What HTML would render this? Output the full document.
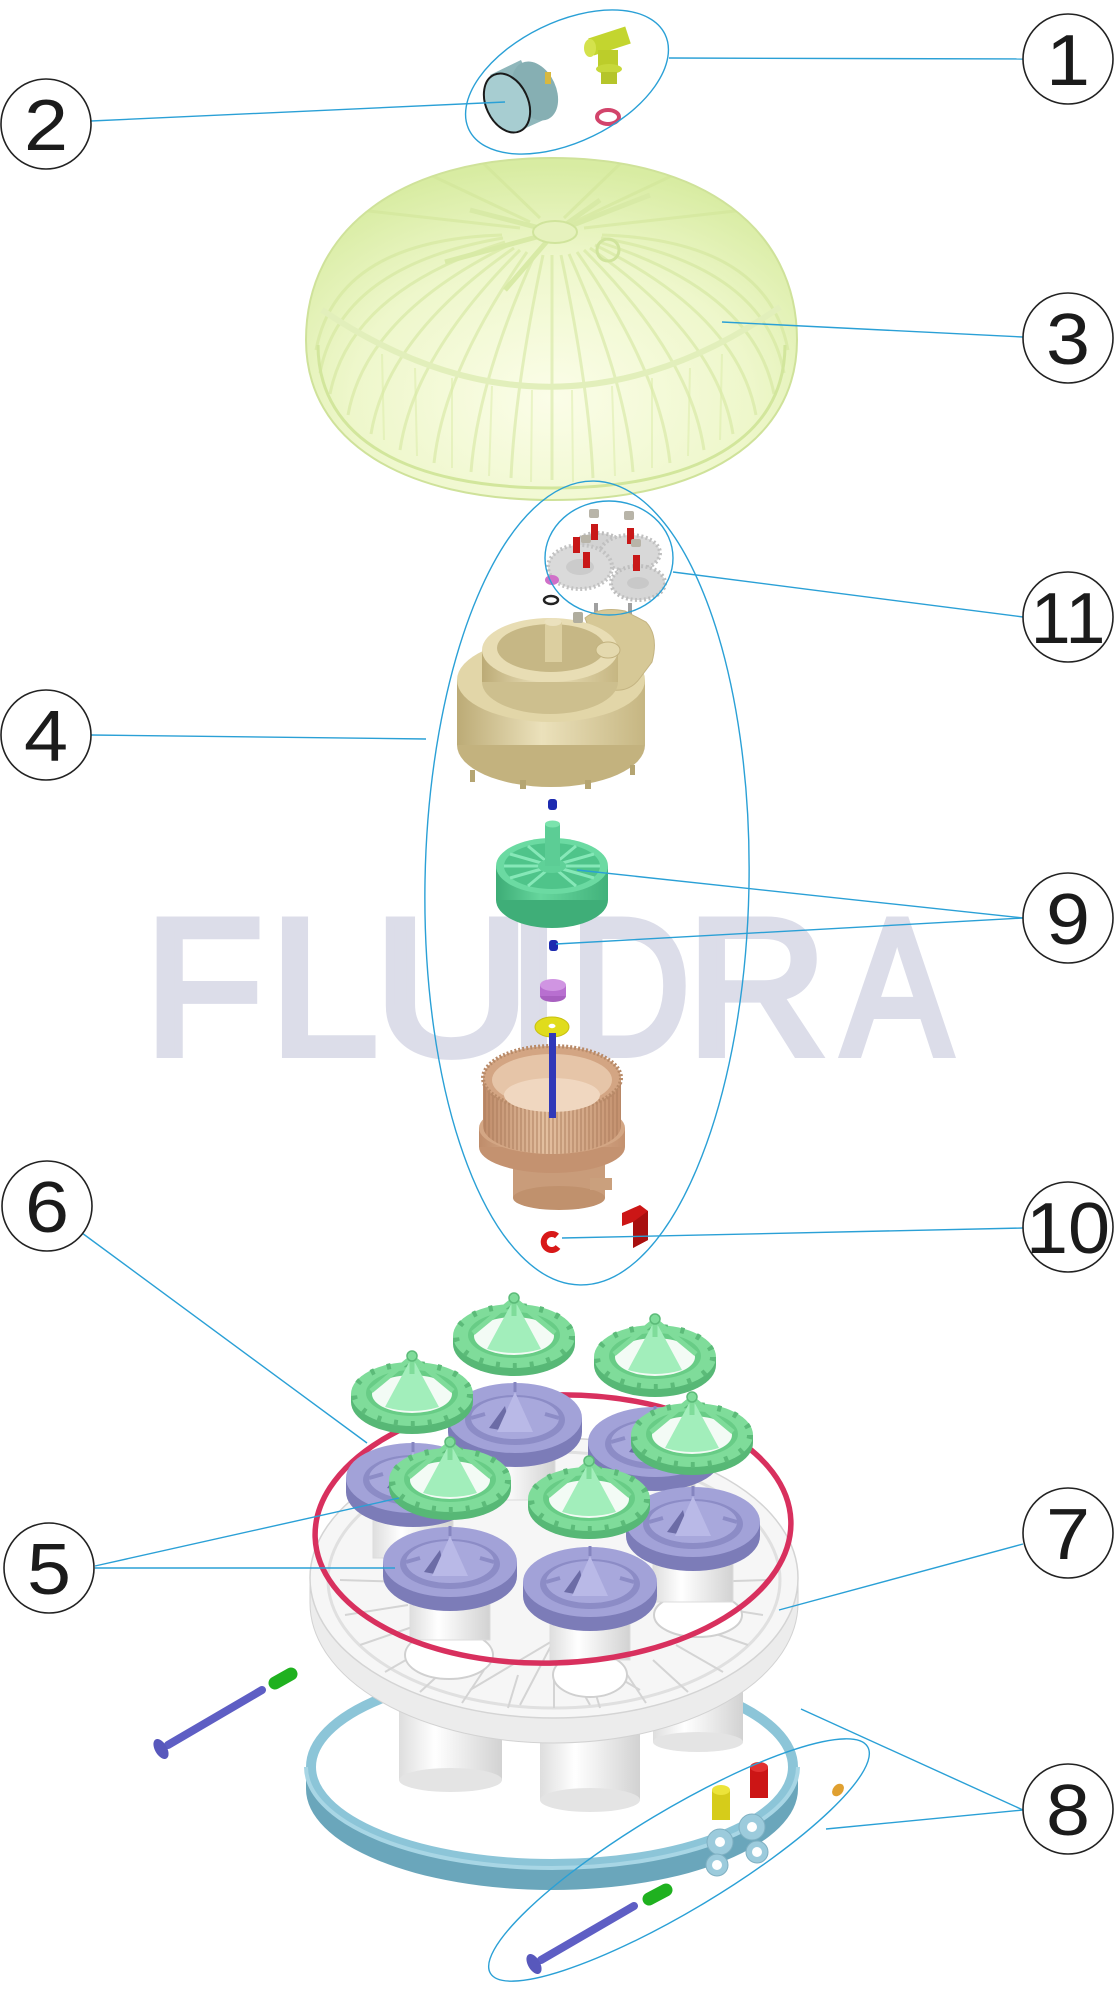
<!DOCTYPE html>
<html><head><meta charset="utf-8">
<style>
html,body{margin:0;padding:0;background:#fff;}
svg{display:block;}
.n{font-family:"Liberation Sans",Arial,sans-serif;font-size:72px;fill:#1b1b1b;}
.wm{font-family:"Liberation Sans",Arial,sans-serif;font-size:194px;font-weight:normal;fill:#dcdde9;stroke:#dcdde9;stroke-width:8;stroke-linejoin:miter;}
.ld{stroke:#2aa0d6;stroke-width:1.4;fill:none;}
</style></head><body>
<svg width="1115" height="2000" viewBox="0 0 1115 2000" xmlns="http://www.w3.org/2000/svg">
<defs>
 <radialGradient id="dg" cx="0.5" cy="0.7" r="0.68">
  <stop offset="0" stop-color="#fbfde8"/>
  <stop offset="0.6" stop-color="#eef7cb"/>
  <stop offset="1" stop-color="#d8ec a2"/>
 </radialGradient>
 <radialGradient id="dg2" cx="0.5" cy="0.7" r="0.68">
  <stop offset="0" stop-color="#fbfde8"/>
  <stop offset="0.6" stop-color="#eef7cb"/>
  <stop offset="1" stop-color="#d8eca2"/>
 </radialGradient>
 <clipPath id="dc"><path d="M306,340 C306,228 402,158 552,158 C702,158 797,228 797,340 C797,442 700,500 552,500 C404,500 306,442 306,340Z"/></clipPath>
 <linearGradient id="wcyl" x1="0" x2="1"><stop offset="0" stop-color="#dedede"/><stop offset="0.35" stop-color="#ffffff"/><stop offset="1" stop-color="#d2d2d2"/></linearGradient>
 <linearGradient id="fanG" x1="0" x2="1"><stop offset="0" stop-color="#3dac76"/><stop offset="0.4" stop-color="#66d69d"/><stop offset="1" stop-color="#42b27b"/></linearGradient>
 <linearGradient id="brG" x1="0" x2="1"><stop offset="0" stop-color="#bf8c6a"/><stop offset="0.45" stop-color="#e4c0a0"/><stop offset="1" stop-color="#c4916f"/></linearGradient>
 <linearGradient id="bgG" x1="0" x2="1"><stop offset="0" stop-color="#bcab76"/><stop offset="0.45" stop-color="#ebe1bb"/><stop offset="1" stop-color="#c6b682"/></linearGradient>
 <pattern id="teeth" width="4" height="10" patternUnits="userSpaceOnUse"><rect width="2" height="10" fill="#a97a5a"/></pattern>
 <g id="cap">
  <ellipse cx="0" cy="8" rx="61" ry="32" fill="#57b876"/>
  <rect x="-61" y="0" width="122" height="8" fill="#57b876"/>
  <ellipse cx="0" cy="0" rx="61" ry="32" fill="#7fdc9a"/>
  <ellipse cx="0" cy="0" rx="58" ry="30" fill="none" stroke="#5cbb79" stroke-width="6" stroke-dasharray="4 13"/>
  <ellipse cx="0" cy="-1" rx="46" ry="23" fill="#68cc86"/>
  <ellipse cx="0" cy="0" rx="40" ry="19" fill="#f3fbf5"/>
  <path d="M0,-37 L-27,13 Q0,21 27,13 Z" fill="#a2eebb"/>
  <path d="M0,-37 L-41,-3 M0,-37 L41,-3 M0,-37 L0,-20" stroke="#7fdc9a" stroke-width="5"/>
  <circle cx="0" cy="-38" r="5" fill="#7fdc9a" stroke="#5cbb79" stroke-width="1.5"/>
 </g>
 <g id="puck">
  <ellipse cx="0" cy="14" rx="67" ry="35" fill="#7c7cb8"/>
  <rect x="-67" y="0" width="134" height="14" fill="#7c7cb8"/>
  <ellipse cx="0" cy="0" rx="67" ry="35" fill="#a2a2d8"/>
  <ellipse cx="0" cy="2" rx="50" ry="25" fill="#8c8cc6"/>
  <ellipse cx="0" cy="0" rx="44" ry="21" fill="#a8a8dc"/>
  <path d="M-26,10 L-10,-12 L-4,14 Z" fill="#6c6ca6"/>
  <path d="M0,-26 L-18,14 L18,14 Z" fill="#b9b9e7"/>
  <path d="M0,-26 L0,-36" stroke="#8585c0" stroke-width="3"/>
  <path d="M-44,0 L-30,-4 M44,0 L30,-4" stroke="#8c8cc6" stroke-width="4"/>
 </g>
 <g id="tube">
  <rect x="-40" y="0" width="80" height="70" fill="url(#wcyl)" stroke="#dcdcdc"/>
 </g>
</defs>

<rect width="1115" height="2000" fill="#fff"/>

<!-- watermark -->
<text class="wm" x="204" y="1054" text-anchor="middle">F</text>
<text class="wm" x="324" y="1054" text-anchor="middle">L</text>
<text class="wm" x="452" y="1054" text-anchor="middle" transform="translate(452,0) scale(1.12,1) translate(-452,0)">U</text>
<text class="wm" x="534" y="1054" text-anchor="middle">I</text>
<text class="wm" x="630" y="1054" text-anchor="middle" transform="translate(630,0) scale(0.86,1) translate(-630,0)">D</text>
<text class="wm" x="757" y="1054" text-anchor="middle">R</text>
<text class="wm" x="897" y="1054" text-anchor="middle" transform="translate(897,0) scale(0.84,1) translate(-897,0)">A</text>

<!-- DOME (3) -->
<path d="M306,340 C306,228 402,158 552,158 C702,158 797,228 797,340 C797,442 700,500 552,500 C404,500 306,442 306,340Z" fill="url(#dg2)" stroke="#cfe29a" stroke-width="2"/>
<g clip-path="url(#dc)" stroke="#cfe496" stroke-width="3" opacity="0.5" fill="none">
 <path d="M602,235 Q767,240 788,350"/>
 <path d="M601,238 Q764,266 784,373"/>
 <path d="M599,242 Q754,291 774,394"/>
 <path d="M595,245 Q738,315 756,415"/>
 <path d="M590,248 Q717,336 733,434"/>
 <path d="M584,250 Q690,355 704,450"/>
 <path d="M577,252 Q660,370 670,463"/>
 <path d="M569,254 Q626,381 633,472"/>
 <path d="M561,255 Q589,388 593,478"/>
 <path d="M552,255 L552,480"/>
 <path d="M543,255 Q515,388 511,478"/>
 <path d="M535,254 Q478,381 471,472"/>
 <path d="M527,252 Q444,370 434,463"/>
 <path d="M520,250 Q414,355 400,450"/>
 <path d="M514,248 Q387,336 371,434"/>
 <path d="M509,245 Q366,315 348,415"/>
 <path d="M505,242 Q350,291 330,394"/>
 <path d="M503,238 Q340,266 320,373"/>
 <path d="M502,235 Q337,240 316,350"/>
 <path d="M530,222 L420,170 M574,222 L684,170 M540,218 L480,160 M564,218 L624,160 M520,228 L360,210 M584,228 L744,210"/>
</g>
<g clip-path="url(#dc)" stroke="#d9eba6" stroke-width="2" opacity="0.5" fill="none">
 <path d="M532,390 L531,482 M572,390 L573,482 M492,386 L489,476 M612,386 L615,476 M452,378 L452,468 M652,378 L652,468 M415,368 L417,456 M690,368 L688,456 M382,354 L384,440 M722,354 L720,440"/>
</g>
<path d="M318,345 C318,440 410,488 552,488 C694,488 785,440 785,345" fill="none" stroke="#d2e69c" stroke-width="3"/>
<path d="M322,310 Q552,465 780,307" fill="none" stroke="#e2efbb" stroke-width="6"/>
<g stroke="#d8eaa6" stroke-width="5" fill="none">
 <path d="M555,232 L445,262 M555,232 L650,195 M555,232 L505,290 M555,232 L600,200 M555,232 L470,210"/>
</g>
<ellipse cx="555" cy="232" rx="22" ry="11" fill="#e6f2bd" stroke="#d0e49c" stroke-width="2"/>
<circle cx="608" cy="250" r="11" fill="none" stroke="#d0e49c" stroke-width="3"/>

<!-- TOP PARTS (1,2) -->
<polygon points="490,75 521,60 548,118 517,132" fill="#8fb7bb"/>
<ellipse cx="535" cy="91" rx="21" ry="31" transform="rotate(-25 535 91)" fill="#86afb3"/>
<rect x="545" y="72" width="6" height="12" fill="#d8b840"/>
<ellipse cx="507" cy="103" rx="21" ry="31" transform="rotate(-25 507 103)" fill="#a7cdd1" stroke="#1a1a1a" stroke-width="2"/>
<line x1="591" y1="47" x2="628" y2="35" stroke="#c3d52f" stroke-width="18"/>
<ellipse cx="590" cy="48" rx="6" ry="9" fill="#d4e24c"/>
<rect x="598" y="50" width="20" height="20" fill="#bccd2a"/>
<ellipse cx="609" cy="69" rx="13" ry="5" fill="#c7d83a"/>
<rect x="601" y="72" width="16" height="12" fill="#b5c52a"/>
<ellipse cx="608" cy="117" rx="11" ry="7" fill="none" stroke="#d2446b" stroke-width="4"/>

<!-- GEARS (11) -->
<ellipse cx="598" cy="545" rx="22" ry="12" fill="#d2d2d2" stroke="#bdbdbd" stroke-width="4" stroke-dasharray="2 2.5"/>
<ellipse cx="630" cy="553" rx="30" ry="18" fill="#d8d8d8" stroke="#c0c0c0" stroke-width="4" stroke-dasharray="2 2.5"/>
<ellipse cx="580" cy="567" rx="32" ry="22" fill="#dadada" stroke="#c2c2c2" stroke-width="4" stroke-dasharray="2 2.5"/>
<ellipse cx="580" cy="567" rx="14" ry="8" fill="#cbcbcb"/>
<ellipse cx="638" cy="583" rx="27" ry="17" fill="#d6d6d6" stroke="#bebebe" stroke-width="4" stroke-dasharray="2 2.5"/>
<ellipse cx="638" cy="583" rx="11" ry="6" fill="#c8c8c8"/>
<g fill="#c81818">
 <rect x="591" y="524" width="7" height="16"/><rect x="573" y="537" width="7" height="16"/>
 <rect x="583" y="552" width="7" height="16"/><rect x="627" y="528" width="7" height="16"/>
 <rect x="633" y="555" width="7" height="16"/>
</g>
<g fill="#b8b4a8">
 <rect x="589" y="509" width="10" height="9" rx="2"/><rect x="624" y="511" width="10" height="9" rx="2"/>
 <rect x="581" y="535" width="10" height="8" rx="2"/><rect x="631" y="539" width="10" height="8" rx="2"/>
</g>
<ellipse cx="552" cy="580" rx="7" ry="5" fill="#d070c8"/>
<ellipse cx="551" cy="600" rx="7" ry="4" fill="none" stroke="#222" stroke-width="2.5"/>
<g stroke="#a0a0a0" stroke-width="4"><line x1="596" y1="603" x2="596" y2="632"/><line x1="630" y1="603" x2="630" y2="633"/><line x1="636" y1="637" x2="636" y2="658"/></g>

<!-- HOUSING (4) -->
<ellipse cx="551" cy="745" rx="94" ry="42" fill="#c3b27e"/>
<rect x="457" y="680" width="188" height="65" fill="url(#bgG)"/>
<g fill="#b5a572"><rect x="470" y="770" width="5" height="12"/><rect x="520" y="780" width="6" height="9"/><rect x="585" y="780" width="6" height="9"/><rect x="630" y="765" width="5" height="10"/></g>
<ellipse cx="551" cy="680" rx="94" ry="42" fill="#e2d6a8"/>
<path d="M585,618 Q600,606 625,611 L646,622 Q659,636 652,662 L640,678 Q630,692 612,690 Z" fill="#d6c896" stroke="#c4b482"/>
<ellipse cx="550" cy="682" rx="68" ry="32" fill="#cdbf8e"/>
<rect x="482" y="650" width="136" height="32" fill="url(#bgG)"/>
<ellipse cx="550" cy="650" rx="68" ry="32" fill="#e8ddb4"/>
<ellipse cx="551" cy="648" rx="54" ry="24" fill="#c6b785"/>
<rect x="545" y="622" width="17" height="40" fill="#dccfa0"/>
<ellipse cx="553" cy="622" rx="8.5" ry="4" fill="#ebe1bd"/>
<ellipse cx="608" cy="650" rx="12" ry="8" fill="#e4d9ae" stroke="#c2b27f"/>
<rect x="573" y="612" width="10" height="11" rx="2" fill="#b0ad9e"/>

<!-- FAN (9) -->
<rect x="548" y="799" width="9" height="11" rx="3" fill="#1d2bb0"/>
<ellipse cx="552" cy="900" rx="56" ry="28" fill="#3fae78"/>
<rect x="496" y="866" width="112" height="34" fill="url(#fanG)"/>
<ellipse cx="552" cy="866" rx="56" ry="28" fill="#6bdaa2"/>
<ellipse cx="552" cy="866" rx="48" ry="23" fill="#4fc48a"/>
<g stroke="#86e8b8" stroke-width="3">
 <line x1="552" y1="866" x2="600" y2="866"/><line x1="552" y1="866" x2="594" y2="878"/><line x1="552" y1="866" x2="576" y2="886"/>
 <line x1="552" y1="866" x2="528" y2="886"/><line x1="552" y1="866" x2="510" y2="878"/><line x1="552" y1="866" x2="504" y2="866"/>
 <line x1="552" y1="866" x2="510" y2="854"/><line x1="552" y1="866" x2="528" y2="846"/><line x1="552" y1="866" x2="576" y2="846"/><line x1="552" y1="866" x2="594" y2="854"/>
</g>
<ellipse cx="552" cy="866" rx="14" ry="7" fill="#5fd198"/>
<rect x="545" y="824" width="15" height="42" fill="#5ccd95"/>
<ellipse cx="552.5" cy="824" rx="7.5" ry="3.5" fill="#7be3ad"/>
<rect x="549" y="940" width="9" height="11" rx="3" fill="#1d2bb0"/>
<ellipse cx="553" cy="996" rx="13" ry="6" fill="#a860c0"/>
<rect x="540" y="985" width="26" height="11" fill="#b86fd0"/>
<ellipse cx="553" cy="985" rx="13" ry="6" fill="#d095e2"/>
<ellipse cx="552" cy="1027" rx="17" ry="10" fill="#e0dc1c" stroke="#c8c010"/>
<ellipse cx="552" cy="1026" rx="3.5" ry="2.2" fill="#fff"/>

<!-- BRONZE HOUSING -->
<rect x="513" y="1150" width="92" height="48" fill="#c99c7a"/>
<ellipse cx="559" cy="1198" rx="46" ry="12" fill="#c0916d"/>
<rect x="590" y="1178" width="22" height="12" fill="#caa07d"/>
<ellipse cx="552" cy="1147" rx="73" ry="26" fill="#c49270"/>
<rect x="479" y="1128" width="146" height="19" fill="url(#brG)"/>
<ellipse cx="552" cy="1128" rx="73" ry="26" fill="#d3a684"/>
<path d="M483,1078 L483,1126 A69,28 0 0 0 621,1126 L621,1078 Z" fill="url(#brG)"/>
<path d="M483,1078 L483,1126 A69,28 0 0 0 621,1126 L621,1078 Z" fill="url(#teeth)" opacity="0.45"/>
<ellipse cx="552" cy="1078" rx="69" ry="32" fill="#d3a583" stroke="#b88a68" stroke-width="4" stroke-dasharray="2 2"/>
<ellipse cx="552" cy="1080" rx="60" ry="26" fill="#e6c5a8"/>
<ellipse cx="552" cy="1095" rx="48" ry="17" fill="#f0d7c0"/>
<rect x="549" y="1033" width="7" height="85" fill="#3038b8"/>
<path d="M557,1236 A8,8 0 1 0 558,1247" fill="none" stroke="#d81818" stroke-width="6"/>
<polygon points="622,1213 640,1205 648,1211 648,1240 633,1248 633,1222 622,1226" fill="#cc1616"/>
<polygon points="633,1222 648,1211 648,1240 633,1248" fill="#a80f0f"/>

<!-- BLUE RING (8) -->
<ellipse cx="552" cy="1767" rx="241" ry="97" fill="none" stroke="#8cc5d8" stroke-width="10"/>
<path d="M306,1767 A246,101 0 0 0 798,1767 L798,1789 A246,101 0 0 1 306,1789 Z" fill="#6aa6bb"/>
<path d="M306,1767 A246,101 0 0 0 798,1767" fill="none" stroke="#a8d6e5" stroke-width="4"/>
<g fill="#9ccbdc" stroke="#7fb0c2">
 <circle cx="720" cy="1842" r="13"/><circle cx="752" cy="1827" r="13"/><circle cx="717" cy="1865" r="11"/><circle cx="757" cy="1852" r="11"/>
</g>
<g fill="#fff"><circle cx="720" cy="1842" r="5"/><circle cx="752" cy="1827" r="5"/><circle cx="717" cy="1865" r="5"/><circle cx="757" cy="1852" r="5"/></g>

<!-- LOWER WHITE CYLINDERS -->
<rect x="399" y="1690" width="103" height="90" fill="url(#wcyl)"/>
<ellipse cx="450.5" cy="1780" rx="51.5" ry="12" fill="#e4e4e4"/>
<rect x="540" y="1700" width="100" height="100" fill="url(#wcyl)"/>
<ellipse cx="590" cy="1800" rx="50" ry="12" fill="#e4e4e4"/>
<rect x="653" y="1680" width="90" height="62" fill="url(#wcyl)"/>
<ellipse cx="698" cy="1742" rx="45" ry="10" fill="#e4e4e4"/>

<!-- BASE DISC (7) -->
<path d="M310,1578 A244,140 0 0 0 798,1578 L798,1603 A244,140 0 0 1 310,1603 Z" fill="#ececec" stroke="#d2d2d2"/>
<ellipse cx="554" cy="1578" rx="244" ry="140" fill="#f6f6f6" stroke="#d4d4d4" stroke-width="1.5"/>
<ellipse cx="554" cy="1580" rx="226" ry="128" fill="none" stroke="#e0e0e0" stroke-width="3"/>
<g stroke="#d4d4d4" stroke-width="2">
 <line x1="340" y1="1580" x2="405" y2="1582"/><line x1="345" y1="1615" x2="408" y2="1605"/><line x1="360" y1="1645" x2="418" y2="1625"/>
 <line x1="385" y1="1672" x2="432" y2="1645"/><line x1="420" y1="1692" x2="455" y2="1660"/><line x1="462" y1="1703" x2="484" y2="1670"/>
 <line x1="508" y1="1708" x2="518" y2="1675"/><line x1="554" y1="1708" x2="554" y2="1676"/><line x1="600" y1="1708" x2="590" y2="1675"/>
 <line x1="646" y1="1703" x2="624" y2="1670"/><line x1="688" y1="1692" x2="653" y2="1660"/><line x1="723" y1="1672" x2="676" y2="1645"/>
 <line x1="748" y1="1645" x2="690" y2="1625"/><line x1="763" y1="1615" x2="700" y2="1605"/><line x1="768" y1="1580" x2="703" y2="1582"/>
 <line x1="554" y1="1640" x2="520" y2="1705"/><line x1="554" y1="1640" x2="590" y2="1705"/><line x1="554" y1="1640" x2="470" y2="1690"/><line x1="554" y1="1640" x2="640" y2="1690"/>
</g>
<ellipse cx="449" cy="1655" rx="44" ry="24" fill="#fff" stroke="#d0d0d0" stroke-width="2"/>
<ellipse cx="590" cy="1675" rx="37" ry="22" fill="#fff" stroke="#d0d0d0" stroke-width="2"/>
<ellipse cx="698" cy="1615" rx="44" ry="22" fill="#fff" stroke="#d0d0d0" stroke-width="2"/>

<!-- tubes under pucks -->
<use href="#tube" x="515" y="1430"/>
<use href="#tube" x="655" y="1452"/>
<use href="#tube" x="413" y="1488"/>
<use href="#tube" x="693" y="1532"/>
<use href="#tube" x="450" y="1570"/>
<use href="#tube" x="590" y="1590"/>

<!-- RED O-RING (6) -->
<ellipse cx="553" cy="1529" rx="238" ry="134" transform="rotate(-2 553 1529)" fill="none" stroke="#d8305e" stroke-width="5.5"/>

<!-- pucks and caps (5) -->
<use href="#puck" x="515" y="1418"/>
<use href="#puck" x="655" y="1442"/>
<use href="#puck" x="413" y="1478"/>
<use href="#puck" x="693" y="1522"/>
<use href="#cap" x="514" y="1336"/>
<use href="#cap" x="655" y="1357"/>
<use href="#cap" x="412" y="1394"/>
<use href="#cap" x="692" y="1435"/>
<use href="#cap" x="450" y="1480"/>
<use href="#cap" x="589" y="1499"/>
<use href="#puck" x="450" y="1562"/>
<use href="#puck" x="590" y="1582"/>

<!-- bolts & pins (8) -->
<line x1="168" y1="1745" x2="262" y2="1690" stroke="#5e5ec4" stroke-width="8" stroke-linecap="round"/>
<ellipse cx="161" cy="1749" rx="6" ry="11" transform="rotate(-30 161 1749)" fill="#5858bc"/>
<line x1="275" y1="1683" x2="291" y2="1674" stroke="#1fb11f" stroke-width="13" stroke-linecap="round"/>
<line x1="541" y1="1960" x2="634" y2="1906" stroke="#5e5ec4" stroke-width="8" stroke-linecap="round"/>
<ellipse cx="534" cy="1964" rx="6" ry="11" transform="rotate(-30 534 1964)" fill="#5858bc"/>
<line x1="649" y1="1899" x2="666" y2="1890" stroke="#1fb11f" stroke-width="13" stroke-linecap="round"/>
<rect x="712" y="1790" width="18" height="30" fill="#d6cc1a"/>
<ellipse cx="721" cy="1790" rx="9" ry="5" fill="#ece43a"/>
<rect x="750" y="1767" width="18" height="31" fill="#cc1515"/>
<ellipse cx="759" cy="1767" rx="9" ry="5" fill="#e23030"/>
<ellipse cx="838" cy="1790" rx="5" ry="7" transform="rotate(40 838 1790)" fill="#e0a030"/>

<!-- ANNOTATION ELLIPSES -->
<ellipse class="ld" cx="567" cy="82" rx="109" ry="60" transform="rotate(-26 567 82)"/>
<ellipse class="ld" cx="587" cy="883" rx="162" ry="402" transform="rotate(1 587 883)"/>
<ellipse class="ld" cx="609" cy="558" rx="64" ry="57"/>
<ellipse class="ld" cx="679" cy="1860" rx="220" ry="50" transform="rotate(-31 679 1860)"/>

<!-- LEADER LINES -->
<g class="ld">
 <line x1="669" y1="58" x2="1023" y2="59"/>
 <line x1="91" y1="121" x2="505" y2="102"/>
 <line x1="722" y1="322" x2="1023" y2="337"/>
 <line x1="673" y1="572" x2="1023" y2="617"/>
 <line x1="91" y1="735" x2="426" y2="739"/>
 <line x1="577" y1="870" x2="1023" y2="918"/>
 <line x1="556" y1="944" x2="1023" y2="918"/>
 <line x1="82" y1="1233" x2="367" y2="1443"/>
 <line x1="562" y1="1238" x2="1023" y2="1228"/>
 <line x1="95" y1="1566" x2="399" y2="1498"/>
 <line x1="95" y1="1568" x2="395" y2="1568"/>
 <line x1="779" y1="1610" x2="1023" y2="1544"/>
 <line x1="801" y1="1709" x2="1023" y2="1810"/>
 <line x1="826" y1="1829" x2="1023" y2="1810"/>
</g>

<!-- NUMBER CIRCLES -->
<g fill="#fff" stroke="#222" stroke-width="1.6">
 <circle cx="1068" cy="59" r="45"/>
 <circle cx="46" cy="124" r="45"/>
 <circle cx="1068" cy="338" r="45"/>
 <circle cx="1068" cy="617" r="45"/>
 <circle cx="46" cy="735" r="45"/>
 <circle cx="1068" cy="918" r="45"/>
 <circle cx="47" cy="1206" r="45"/>
 <circle cx="1068" cy="1227" r="45"/>
 <circle cx="49" cy="1568" r="45"/>
 <circle cx="1068" cy="1533" r="45"/>
 <circle cx="1068" cy="1809" r="45"/>
</g>
<g class="n" text-anchor="middle">
 <text transform="translate(1068,85) scale(1.1,1)">1</text>
 <text transform="translate(46,150) scale(1.1,1)">2</text>
 <text transform="translate(1068,364) scale(1.1,1)">3</text>
 <text transform="translate(1068,643) scale(1.0,1)">11</text>
 <text transform="translate(46,761) scale(1.1,1)">4</text>
 <text transform="translate(1068,944) scale(1.1,1)">9</text>
 <text transform="translate(47,1232) scale(1.1,1)">6</text>
 <text transform="translate(1068,1253) scale(1.05,1)">10</text>
 <text transform="translate(49,1594) scale(1.1,1)">5</text>
 <text transform="translate(1068,1559) scale(1.1,1)">7</text>
 <text transform="translate(1068,1835) scale(1.1,1)">8</text>
</g>
</svg>
</body></html>
